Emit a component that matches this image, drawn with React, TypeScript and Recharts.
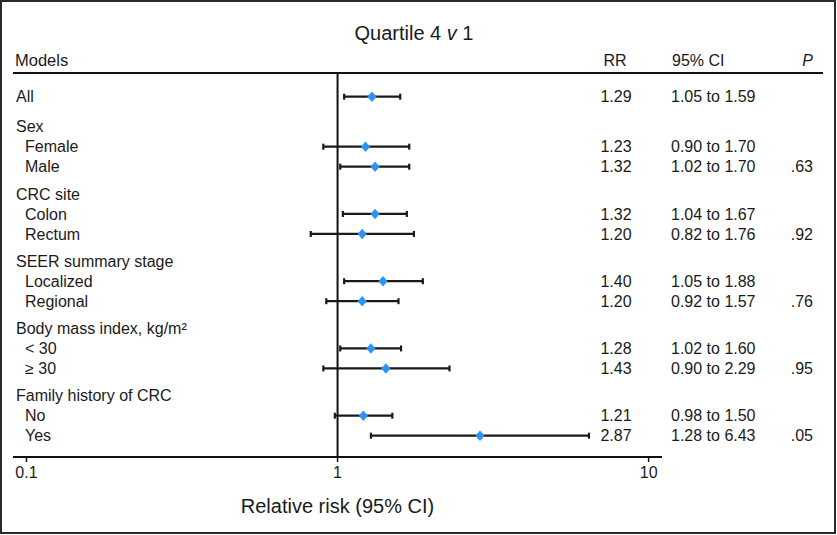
import React from 'react';
import { ScatterChart, Scatter, XAxis, YAxis, ErrorBar, ReferenceLine } from 'recharts';

// ---- data ----
const groupLabels = ['', 'Sex', 'CRC site', 'SEER summary stage', 'Body mass index, kg/m\u00B2', 'Family history of CRC'];
const labels = ['All', 'Female', 'Male', 'Colon', 'Rectum', 'Localized', 'Regional', '< 30', '\u2265 30', 'No', 'Yes'];
const groupOf = [0, 1, 1, 2, 2, 3, 3, 4, 4, 5, 5];
const rr = [1.29, 1.23, 1.32, 1.32, 1.2, 1.4, 1.2, 1.28, 1.43, 1.21, 2.87];
const ciLow = [1.05, 0.9, 1.02, 1.04, 0.82, 1.05, 0.92, 1.02, 0.9, 0.98, 1.28];
const ciHigh = [1.59, 1.7, 1.7, 1.67, 1.76, 1.88, 1.57, 1.6, 2.29, 1.5, 6.43];
const pValues = ['', '', '.63', '', '.92', '', '.76', '', '.95', '', '.05'];
const xTicks = [0.1, 1, 10];
const title = 'Quartile 4 ';
const xAxisTitle = 'Relative risk (95% CI)';
const headers = { model: 'Models', rr: 'RR', ci: '95% CI', p: 'P' };

// ---- layout helpers ----
const FONT = '"Liberation Sans", Arial, Helvetica, sans-serif';
const TXT = '#1a1a1a';
const FIRST_GAP = 1.5;
const GROUP_GAP = 1.3625;

type Row = { pos: number; kind: 'header' | 'item'; text: string; idx: number; group: number };
const rows: Row[] = [];
const points: { pos: number; rr: number; err: [number, number] }[] = [];
let cur = 0;
let prevGroup = -1;
labels.forEach((lab, i) => {
  const g = groupOf[i];
  if (i === 0) cur = 0;
  else if (g !== prevGroup) {
    cur += g === 1 ? FIRST_GAP : GROUP_GAP;
    rows.push({ pos: cur, kind: 'header', text: groupLabels[g], idx: -1, group: g });
    cur += 1;
  } else cur += 1;
  rows.push({ pos: cur, kind: 'item', text: lab, idx: i, group: g });
  points.push({ pos: cur, rr: rr[i], err: [rr[i] - ciLow[i], ciHigh[i] - rr[i]] });
  prevGroup = g;
});
const yDomain = [-1.185, cur + 1.065];

const COL_RR = 616;
const COL_CI = 671;
const COL_P = 813;

const RowTick = (props: any) => {
  const { y, payload } = props;
  const row = rows.find((r) => Math.abs(r.pos - payload.value) < 1e-6);
  if (!row) return null;
  const common = { fontFamily: FONT, fontSize: 16, fill: TXT, dy: '0.35em' } as any;
  if (row.kind === 'header') {
    return (
      <text x={16} y={y} {...common}>
        {row.text}
      </text>
    );
  }
  const i = row.idx;
  return (
    <g>
      <text x={row.group === 0 ? 16 : 25} y={y} {...common}>
        {row.text}
      </text>
      <text x={COL_RR} y={y} textAnchor="middle" {...common}>
        {rr[i].toFixed(2)}
      </text>
      <text x={COL_CI} y={y} {...common}>
        {`${ciLow[i].toFixed(2)} to ${ciHigh[i].toFixed(2)}`}
      </text>
      <text x={COL_P} y={y} textAnchor="end" {...common}>
        {pValues[i]}
      </text>
    </g>
  );
};

const Diamond = (props: any) => {
  const { cx, cy } = props;
  if (cx == null || cy == null) return null;
  const w = 4.6;
  const h = 5.2;
  return <polygon points={`${cx},${cy - h} ${cx + w},${cy} ${cx},${cy + h} ${cx - w},${cy}`} fill="#2E94F4" />;
};

export default function App() {
  return (
    <div style={{ position: 'absolute', left: 0, top: 0, width: 837, height: 535, background: '#fff' }}>
      <ScatterChart width={837} height={535} margin={{ top: 73, right: 175, bottom: 18, left: 0 }}>
        <rect x={1} y={1} width={834} height={532} fill="none" stroke="#2a2a2a" strokeWidth={2} />
        <text x={414} y={40} textAnchor="middle" fontFamily={FONT} fontSize={20} fill={TXT}>
          {title}
          <tspan fontStyle="italic">v</tspan>
          {' 1'}
        </text>
        <text x={15} y={60} dy="0.35em" fontFamily={FONT} fontSize={16.5} fill={TXT}>{headers.model}</text>
        <text x={615} y={60} dy="0.35em" textAnchor="middle" fontFamily={FONT} fontSize={16} fill={TXT}>{headers.rr}</text>
        <text x={672} y={60} dy="0.35em" fontFamily={FONT} fontSize={16} fill={TXT}>{headers.ci}</text>
        <text x={813} y={60} dy="0.35em" textAnchor="end" fontFamily={FONT} fontSize={16} fontStyle="italic" fill={TXT}>{headers.p}</text>
        <line x1={13} x2={823} y1={73} y2={73} stroke="#111" strokeWidth={2} />
        <XAxis
          type="number"
          dataKey="rr"
          scale="log"
          domain={[0.0905, 11.04]}
          allowDataOverflow
          ticks={xTicks}
          tickFormatter={(v: number) => String(v)}
          height={60}
          tickSize={5}
          tickMargin={5}
          axisLine={{ stroke: '#111', strokeWidth: 2 }}
          tickLine={{ stroke: '#111', strokeWidth: 1.5 }}
          tick={{ fontFamily: FONT, fontSize: 16, fill: TXT }}
          interval={0}
          label={{ value: xAxisTitle, position: 'insideBottom', offset: 4, fontFamily: FONT, fontSize: 20, fill: TXT }}
        />
        <YAxis
          type="number"
          dataKey="pos"
          domain={yDomain}
          allowDataOverflow
          reversed
          ticks={rows.map((r) => r.pos)}
          interval={0}
          width={13}
          axisLine={false}
          tickLine={false}
          tick={<RowTick />}
        />
        <ReferenceLine x={1} stroke="#111" strokeWidth={2} />
        <Scatter data={points} shape={<Diamond />} fill="#2E94F4" isAnimationActive={false}>
          <ErrorBar dataKey="err" direction="x" width={3} stroke="#1a1a1a" strokeWidth={2.2} isAnimationActive={false} />
        </Scatter>
      </ScatterChart>
    </div>
  );
}
